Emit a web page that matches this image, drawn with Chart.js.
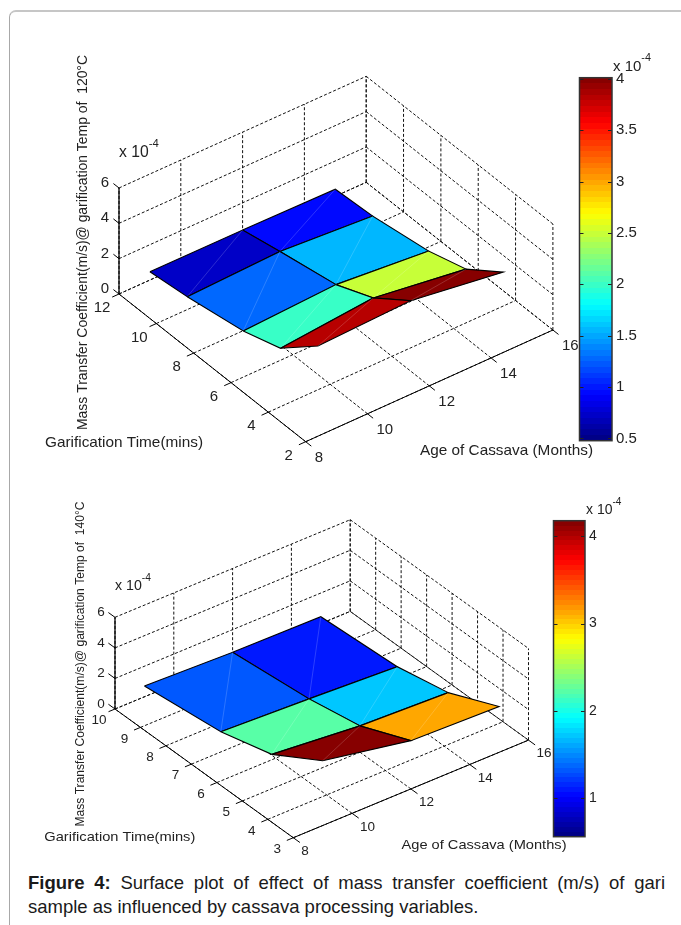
<!DOCTYPE html>
<html>
<head>
<meta charset="utf-8">
<title>Figure 4</title>
<script src="https://cdn.jsdelivr.net/npm/chart.js@4"></script>
<style>
  html, body { margin: 0; padding: 0; background: #fff; }
  body { width: 681px; height: 925px; position: relative; overflow: hidden; }
  canvas { position: absolute; }
  #marco {
    position: absolute; left: 9px; top: 10px; width: 700px; height: 960px;
    border: 1px solid #a8a8a8; border-top: 2px solid #c6c6c6; border-radius: 7px 0 0 0;
  }
  #caption {
    position: absolute; left: 28px; top: 871px; width: 637px;
    font: 18.5px/23.6px "Liberation Sans", Arial, sans-serif; color: #1a1a1a;
  }
  #caption div:first-child { text-align: justify; text-align-last: justify; }
</style>
</head>
<body>
<div id="marco"></div>
<canvas id="surface120" width="681" height="480" style="left:0;top:0"></canvas>
<canvas id="surface140" width="681" height="390" style="left:0;top:480px"></canvas>
<canvas id="bar120" width="102" height="400" style="left:578px;top:48px"></canvas>
<canvas id="bar140" width="102" height="350" style="left:552px;top:495px"></canvas>
<div id="caption"><div><b>Figure 4:</b> Surface plot of effect of mass transfer coefficient (m/s) of gari</div><div>sample as influenced by cassava processing variables.</div></div>

<script>
// Surface at 120C (values x 10^-4, one array per age, one entry per time)
const ages120 = [9, 12, 15];
const times120 = [12, 10, 7, 5, 3];
const coef120Age9 = [0.47, 0.73, 1.30, 1.99, 3.79];
const coef120Age12 = [0.46, 0.92, 1.55, 2.47, 3.98];
const coef120Age15 = [0.40, 0.55, 1.08, 1.73, 3.23];
const timeTicks120 = [12, 10, 8, 6, 4, 2];
const barTicks120 = [0.5, 1, 1.5, 2, 2.5, 3, 3.5, 4];

// Surface at 140C
const ages140 = [9, 12, 15];
const times140 = [10, 7, 5, 3];
const coef140Age9 = [0.71, 1.33, 2.25, 4.24];
const coef140Age12 = [0.52, 1.08, 1.72, 3.16];
const coef140Age15 = [0.45, 0.79, 1.50, 3.00];
const timeTicks140 = [10, 9, 8, 7, 6, 5, 4, 3];
const barTicks140 = [1, 2, 3, 4];

const ageTicks = [8, 10, 12, 14, 16];
const coefTicks = [0, 2, 4, 6];

const FUENTE = '"Liberation Sans", Arial, sans-serif';
const COLOR_TEXTO = '#222';

// MATLAB jet, 64 levels
function jetColor(nivel) {
  const t = (nivel + 0.5) / 64;
  const canal = c => Math.round(255 * Math.max(0, Math.min(1, 1.5 - Math.abs(4 * t - c))));
  return `rgb(${canal(3)},${canal(2)},${canal(1)})`;
}

function nivelJet(valor, min, max) {
  return Math.max(0, Math.min(63, Math.floor((valor - min) / (max - min) * 64)));
}

function texto(ctx, str, x, y, size, align) {
  ctx.font = `${size}px ${FUENTE}`;
  ctx.fillStyle = COLOR_TEXTO;
  ctx.textAlign = align || 'center';
  ctx.textBaseline = 'middle';
  ctx.fillText(str, x, y);
}

// texto ajustado a un ancho medido en la figura, opcionalmente girado
function textoAncho(ctx, str, x, y, ancho, size, girado) {
  ctx.save();
  ctx.font = `${size}px ${FUENTE}`;
  ctx.fillStyle = COLOR_TEXTO;
  ctx.textAlign = 'center';
  ctx.textBaseline = 'middle';
  ctx.translate(x, y);
  if (girado) ctx.rotate(-Math.PI / 2);
  ctx.scale(ancho / ctx.measureText(str).width, 1);
  ctx.fillText(str, 0, 0);
  ctx.restore();
}

function etiquetaExponente(ctx, x, y, size) {
  texto(ctx, 'x 10', x, y, size, 'left');
  const ancho = ctx.measureText('x 10').width;
  texto(ctx, '-4', x + ancho, y - size * 0.55, size * 0.72, 'left');
}

function linea(puntos, color, ancho, dash) {
  return {
    data: puntos, showLine: true, pointRadius: 0, tension: 0,
    borderColor: color, borderWidth: ancho, borderDash: dash || [], fill: false
  };
}

function crearSuperficie(cfg) {
  const { ages, times, filas, vista, timeTicks } = cfg;
  const ageMin = ageTicks[0], ageMax = ageTicks[ageTicks.length - 1];
  const timeMax = timeTicks[0], timeMin = timeTicks[timeTicks.length - 1];
  const coefMax = coefTicks[coefTicks.length - 1];

  // proyeccion ortografica de (edad, tiempo, coeficiente) a la pagina
  const p = (age, time, z) => ({
    x: vista.origen[0] + (age - ageMin) * vista.porEdad[0] + (timeMax - time) * vista.porTiempo[0],
    y: vista.origen[1] + (age - ageMin) * vista.porEdad[1] + (timeMax - time) * vista.porTiempo[1] - z * vista.porCoef
  });

  const rejilla = [];
  const dash = [3, 2];
  const gris = '#111';

  // piso
  timeTicks.forEach(t => rejilla.push(linea([p(ageMin, t, 0), p(ageMax, t, 0)], gris, 1, dash)));
  ageTicks.forEach(a => rejilla.push(linea([p(a, timeMin, 0), p(a, timeMax, 0)], gris, 1, dash)));
  // paredes del fondo
  coefTicks.forEach(z => {
    rejilla.push(linea([p(ageMin, timeMax, z), p(ageMax, timeMax, z)], gris, 1, dash));
    rejilla.push(linea([p(ageMax, timeMax, z), p(ageMax, timeMin, z)], gris, 1, dash));
  });
  ageTicks.forEach(a => rejilla.push(linea([p(a, timeMax, 0), p(a, timeMax, coefMax)], gris, 1, dash)));
  timeTicks.forEach(t => rejilla.push(linea([p(ageMax, t, 0), p(ageMax, t, coefMax)], gris, 1, dash)));

  // ejes y marcas
  const ejes = [
    linea([p(ageMin, timeMax, 0), p(ageMin, timeMin, 0), p(ageMax, timeMin, 0)], '#000', 1),
    linea([p(ageMin, timeMax, 0), p(ageMin, timeMax, coefMax)], '#000', 1.3)
  ];
  timeTicks.forEach(t => ejes.push(linea([p(ageMin, t, 0), p(ageMin - 0.22, t, 0)], '#000', 1)));
  ageTicks.forEach(a => ejes.push(linea([p(a, timeMin, 0), p(a, timeMin - vista.marca, 0)], '#000', 1)));
  coefTicks.forEach(z => ejes.push(linea([p(ageMin, timeMax, z), p(ageMin, timeMax + vista.marca, z)], '#000', 1)));

  // caras de atras hacia adelante, el color sale de la esquina (fila+1, columna)
  const caras = [];
  for (let i = 0; i < times.length - 1; i++) {
    for (let j = ages.length - 2; j >= 0; j--) {
      const esquinas = [
        p(ages[j], times[i], filas[j][i]),
        p(ages[j + 1], times[i], filas[j + 1][i]),
        p(ages[j + 1], times[i + 1], filas[j + 1][i + 1]),
        p(ages[j], times[i + 1], filas[j][i + 1])
      ];
      const color = jetColor(nivelJet(filas[j][i + 1], cfg.barMin, cfg.barMax));
      caras.push(Object.assign(linea([...esquinas, esquinas[0]], '#000', 1.1), {
        fill: 'shape', backgroundColor: color
      }));
      caras.push(linea([esquinas[3], esquinas[1]], 'rgba(255,255,255,0.25)', 0.7));
    }
  }

  const datasets = [...rejilla, ...ejes, ...caras];
  datasets.forEach((d, i) => { d.order = -i; }); // el ultimo queda encima

  const rotulos = {
    id: 'rotulos',
    afterDraw(chart) {
      const ctx = chart.ctx;
      const px = q => ({ x: chart.scales.x.getPixelForValue(q.x), y: chart.scales.y.getPixelForValue(q.y) });
      timeTicks.forEach(t => {
        const q = px(p(ageMin, t, 0));
        texto(ctx, String(t), q.x + vista.offTiempo[0], q.y + vista.offTiempo[1], vista.fuente);
      });
      ageTicks.forEach(a => {
        const q = px(p(a, timeMin, 0));
        texto(ctx, String(a), q.x + vista.offEdad[0], q.y + vista.offEdad[1], vista.fuente, 'left');
      });
      coefTicks.forEach(z => {
        const q = px(p(ageMin, timeMax, z));
        texto(ctx, String(z), q.x - 14, q.y - 5, vista.fuente);
      });
      const base = px({ x: 0, y: cfg.top });
      const rel = (x, y) => [x + base.x, y - cfg.top + base.y];
      etiquetaExponente(ctx, ...rel(cfg.exp[0], cfg.exp[1]), vista.fuente + 0.7);
      textoAncho(ctx, cfg.tituloCoef, ...rel(cfg.coefPos[0], cfg.coefPos[1]), cfg.coefPos[2], vista.fuente, true);
      textoAncho(ctx, 'Garification Time(mins)', ...rel(cfg.timePos[0], cfg.timePos[1]), cfg.timePos[2], vista.fuente);
      textoAncho(ctx, 'Age of Cassava (Months)', ...rel(cfg.agePos[0], cfg.agePos[1]), cfg.agePos[2], vista.fuente);
    }
  };

  const canvas = document.getElementById(cfg.canvas);
  new Chart(canvas, {
    type: 'scatter',
    data: { datasets },
    options: {
      responsive: false,
      animation: false,
      layout: { padding: 0 },
      plugins: { legend: { display: false }, tooltip: { enabled: false } },
      scales: {
        x: { type: 'linear', display: false, min: 0, max: canvas.width },
        y: { type: 'linear', display: false, reverse: true, min: cfg.top, max: cfg.top + canvas.height }
      }
    },
    plugins: [rotulos]
  });
}

function crearBarra(id, min, max, ticks, fuente, margen) {
  const marcas = {
    id: 'marcas',
    afterDraw(chart) {
      const ctx = chart.ctx, a = chart.chartArea, y = chart.scales.y;
      ctx.save();
      ctx.strokeStyle = '#222';
      ctx.lineWidth = 1;
      ticks.forEach(t => {
        const py = Math.round(y.getPixelForValue(t)) + 0.5;
        ctx.beginPath();
        ctx.moveTo(a.left, py); ctx.lineTo(a.left + 4, py);
        ctx.moveTo(a.right - 4, py); ctx.lineTo(a.right, py);
        ctx.stroke();
      });
      ctx.lineWidth = 1.5;
      ctx.strokeStyle = '#333';
      ctx.strokeRect(a.left, a.top, a.right - a.left, a.bottom - a.top);
      ctx.restore();
      etiquetaExponente(ctx, a.right + 1, a.top - 11, fuente);
    }
  };
  new Chart(document.getElementById(id), {
    type: 'bar',
    data: {
      labels: [''],
      datasets: [{
        data: [[min, max]],
        barPercentage: 1,
        categoryPercentage: 1,
        backgroundColor(c) {
          const a = c.chart.chartArea;
          if (!a) return '#00f';
          const g = c.chart.ctx.createLinearGradient(0, a.bottom, 0, a.top);
          for (let i = 0; i < 64; i++) {
            g.addColorStop(i / 64, jetColor(i));
            g.addColorStop((i + 1) / 64, jetColor(i));
          }
          return g;
        }
      }]
    },
    options: {
      responsive: false,
      animation: false,
      layout: { padding: margen },
      plugins: { legend: { display: false }, tooltip: { enabled: false } },
      scales: {
        x: { display: false },
        y: {
          position: 'right', min, max,
          afterBuildTicks(scale) { scale.ticks = ticks.map(value => ({ value })); },
          afterFit(scale) {
            // sin esto la mitad de la ultima etiqueta encoge la barra
            scale.width = margen.ancho;
            scale.paddingTop = 0;
            scale.paddingBottom = 0;
          },
          grid: { display: false, drawTicks: false },
          border: { display: false },
          ticks: {
            padding: 4, color: COLOR_TEXTO, autoSkip: false,
            font: { family: FUENTE, size: fuente },
            callback: v => String(v)
          }
        }
      }
    },
    plugins: [marcas]
  });
}

crearSuperficie({
  canvas: 'surface120', top: 0,
  ages: ages120, times: times120,
  filas: [coef120Age9, coef120Age12, coef120Age15],
  timeTicks: timeTicks120,
  barMin: 0.478, barMax: 4.01,
  vista: {
    origen: [119, 294], porEdad: [30.9, -13.96], porTiempo: [18.67, 14.77], porCoef: 17.67,
    offTiempo: [-17, 14], offEdad: [9, 16], fuente: 15, marca: 0.3
  },
  tituloCoef: 'Mass Transfer Coefficient(m/s)@ garification Temp of  120°C',
  exp: [119, 153], coefPos: [82.7, 242.5, 375], timePos: [124, 443, 158], agePos: [506.5, 451, 173]
});

crearSuperficie({
  canvas: 'surface140', top: 480,
  ages: ages140, times: times140,
  filas: [coef140Age9, coef140Age12, coef140Age15],
  timeTicks: timeTicks140,
  barMin: 0.555, barMax: 4.18,
  vista: {
    origen: [115, 709], porEdad: [29.4, -12.2], porTiempo: [25.47, 18.39], porCoef: 15.28,
    offTiempo: [-16, 11.5], offEdad: [8, 13.5], fuente: 13.5, marca: 0.26
  },
  tituloCoef: 'Mass Transfer Coefficient(m/s)@ garification Temp of  140°C',
  exp: [115, 586], coefPos: [80, 664, 325], timePos: [119.8, 837.7, 151], agePos: [484, 845.7, 165]
});

crearBarra('bar120', 0.478, 4.01, barTicks120, 15, { left: 1.5, right: 0, top: 29.7, bottom: 7.3, ancho: 68 });
crearBarra('bar140', 0.555, 4.18, barTicks140, 14, { left: 1.5, right: 0, top: 25.7, bottom: 8.3, ancho: 69 });
</script>
</body>
</html>
